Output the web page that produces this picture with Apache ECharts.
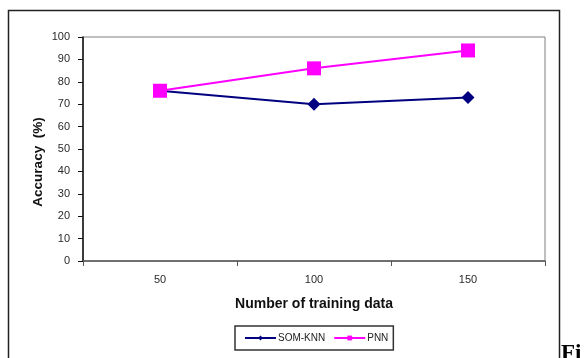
<!DOCTYPE html>
<html>
<head>
<meta charset="utf-8">
<script src="https://cdn.jsdelivr.net/npm/echarts@6/dist/echarts.min.js"></script>
<style>
  html, body { margin: 0; padding: 0; background: #fff; }
  #chart { width: 585px; height: 358px; }
</style>
</head>
<body>
<div id="chart"></div>
<script>
// Training set sizes on the x axis
const categories = ['50', '100', '150'];
// Accuracy (%) for each method
const somKnn = [76, 70, 73];
const pnn = [76, 86, 94];
// Series names
const seriesNames = ['SOM-KNN', 'PNN'];

const chart = echarts.init(document.getElementById('chart'), null, { renderer: 'canvas' });

const labelFont = 'Arial, "Liberation Sans", sans-serif';

chart.setOption({
  animation: false,
  backgroundColor: '#fff',
  grid: {
    left: 83, top: 37, right: 40, bottom: 97,
    show: true, borderColor: '#808080', borderWidth: 1
  },
  xAxis: {
    type: 'category',
    data: categories,
    boundaryGap: true,
    axisLine: { lineStyle: { color: '#555', width: 1.5 } },
    axisTick: { show: true, inside: false, length: 5, lineStyle: { color: '#555' } },
    axisLabel: { fontFamily: labelFont, fontSize: 11, color: '#2a2a2a', margin: 13 },
    name: 'Number of training data',
    nameLocation: 'middle',
    nameGap: 36,
    nameTextStyle: { fontFamily: labelFont, fontSize: 14, fontWeight: 'bold', color: '#111' },
    splitLine: { show: false }
  },
  yAxis: {
    type: 'value',
    min: 0, max: 100, interval: 10,
    axisLine: { show: true, lineStyle: { color: '#111', width: 1.5 } },
    axisTick: { show: true, inside: false, length: 5, lineStyle: { color: '#111' } },
    axisLabel: { fontFamily: labelFont, fontSize: 11, color: '#2a2a2a', margin: 13 },
    splitLine: { show: false }
  },
  legend: {
    data: seriesNames,
    left: 235, top: 326,
    padding: [7, 5, 7, 9],
    itemWidth: 31, itemHeight: 6,
    itemGap: 8,
    borderColor: '#333', borderWidth: 1.5, borderRadius: 0,
    textStyle: { fontFamily: labelFont, fontSize: 10, color: '#222', padding: [0, 0, 0, -3] }
  },
  series: [
    {
      name: seriesNames[0],
      type: 'line',
      data: somKnn,
      symbol: 'diamond',
      symbolSize: 13,
      itemStyle: { color: '#000080' },
      lineStyle: { color: '#000080', width: 2 }
    },
    {
      name: seriesNames[1],
      type: 'line',
      data: pnn,
      symbol: 'rect',
      symbolSize: 14,
      itemStyle: { color: '#ff00ff' },
      lineStyle: { color: '#ff00ff', width: 2 }
    }
  ],
  graphic: [
    {
      type: 'rect',
      shape: { x: 8.5, y: 10.5, width: 551, height: 360 },
      style: { fill: 'none', stroke: '#222', lineWidth: 1.5 },
      silent: true
    },
    {
      type: 'text',
      x: 38, y: 162,
      rotation: Math.PI / 2,
      style: {
        text: 'Accuracy  (%)',
        font: 'bold 13.5px ' + labelFont,
        fill: '#111',
        align: 'center',
        verticalAlign: 'middle'
      }
    },
    {
      type: 'text',
      x: 561, y: 343,
      style: {
        text: 'Fi',
        font: 'bold 23px "Liberation Serif", "DejaVu Serif", serif',
        fill: '#000'
      }
    }
  ]
});
</script>
</body>
</html>
